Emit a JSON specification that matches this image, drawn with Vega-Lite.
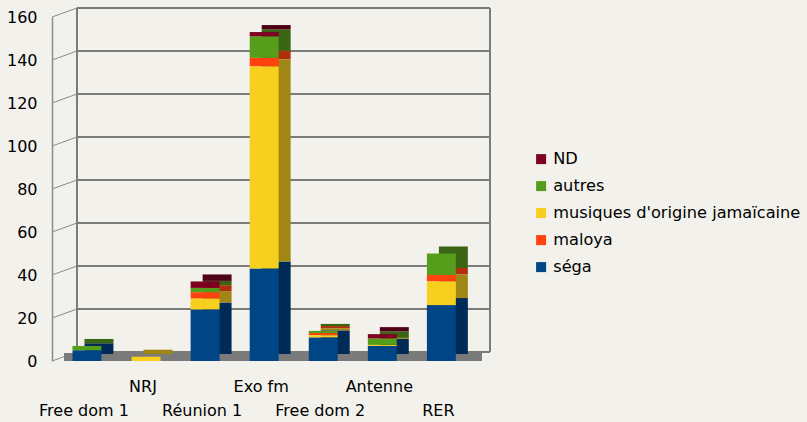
{
  "$schema": "https://vega.github.io/schema/vega-lite/v6.json",
  "width": 438,
  "height": 344,
  "autosize": {"type": "none"},
  "padding": {"left": 52, "top": 17, "right": 317, "bottom": 61},
  "background": "#f2f1eb",
  "config": {"view": {"stroke": null}, "font": "DejaVu Sans"},
  "datasets": {
    "counts": [
      {"station": "Free dom 1", "genre": "séga", "n": 5},
      {"station": "Free dom 1", "genre": "autres", "n": 2},
      {"station": "NRJ", "genre": "musiques d'origine jamaïcaine", "n": 2},
      {"station": "Réunion 1", "genre": "séga", "n": 24},
      {"station": "Réunion 1", "genre": "maloya", "n": 3},
      {"station": "Réunion 1", "genre": "musiques d'origine jamaïcaine", "n": 5},
      {"station": "Réunion 1", "genre": "autres", "n": 2},
      {"station": "Réunion 1", "genre": "ND", "n": 3},
      {"station": "Exo fm", "genre": "séga", "n": 43},
      {"station": "Exo fm", "genre": "maloya", "n": 4},
      {"station": "Exo fm", "genre": "musiques d'origine jamaïcaine", "n": 94},
      {"station": "Exo fm", "genre": "autres", "n": 10},
      {"station": "Exo fm", "genre": "ND", "n": 2},
      {"station": "Free dom 2", "genre": "séga", "n": 11},
      {"station": "Free dom 2", "genre": "maloya", "n": 1},
      {"station": "Free dom 2", "genre": "musiques d'origine jamaïcaine", "n": 1},
      {"station": "Free dom 2", "genre": "autres", "n": 1},
      {"station": "Antenne", "genre": "séga", "n": 7},
      {"station": "Antenne", "genre": "musiques d'origine jamaïcaine", "n": 0.5},
      {"station": "Antenne", "genre": "autres", "n": 3},
      {"station": "Antenne", "genre": "ND", "n": 2},
      {"station": "RER", "genre": "séga", "n": 26},
      {"station": "RER", "genre": "maloya", "n": 3},
      {"station": "RER", "genre": "musiques d'origine jamaïcaine", "n": 11},
      {"station": "RER", "genre": "autres", "n": 10}
    ],
    "ticks": [{"v": 0}, {"v": 20}, {"v": 40}, {"v": 60}, {"v": 80}, {"v": 100}, {"v": 120}, {"v": 140}, {"v": 160}]
  },
  "layer": [
    {
      "data": {"name": "ticks"},
      "mark": {"type": "rule", "color": "#7b7b79", "strokeWidth": 2, "xOffset": 25, "x2Offset": 0, "yOffset": -9, "y2Offset": -9},
      "encoding": {
        "x": {"value": 0},
        "x2": {"value": "width"},
        "y": {"field": "v", "type": "quantitative"},
        "y2": {"field": "v"}
      }
    },
    {
      "data": {"name": "ticks"},
      "mark": {"type": "rule", "color": "#8a8a88", "strokeWidth": 1, "x2Offset": 25, "y2Offset": -9},
      "encoding": {
        "x": {"value": 0},
        "x2": {"value": 0},
        "y": {"field": "v", "type": "quantitative"},
        "y2": {"field": "v"}
      }
    },
    {
      "data": {"values": [{"a": 0, "b": 160}]},
      "mark": {"type": "rule", "color": "#7b7b79", "strokeWidth": 2, "xOffset": 25, "yOffset": -9, "y2Offset": -9},
      "encoding": {"x": {"value": 0}, "y": {"field": "a", "type": "quantitative"}, "y2": {"field": "b"}}
    },
    {
      "data": {"values": [{"a": 0, "b": 160}]},
      "mark": {"type": "rule", "color": "#7b7b79", "strokeWidth": 2, "yOffset": -9, "y2Offset": -9},
      "encoding": {"x": {"value": "width"}, "y": {"field": "a", "type": "quantitative"}, "y2": {"field": "b"}}
    },
    {
      "data": {"values": [{"a": 0}]},
      "mark": {"type": "rule", "color": "#7a7a7a", "strokeWidth": 8, "xOffset": 12, "x2Offset": -8, "yOffset": -4, "y2Offset": -4},
      "encoding": {
        "x": {"value": 0},
        "x2": {"value": "width"},
        "y": {"field": "a", "type": "quantitative"},
        "y2": {"field": "a"}
      }
    },
    {
      "data": {"name": "counts"},
      "mark": {"type": "bar", "xOffset": 12, "x2Offset": 12, "yOffset": -7, "y2Offset": -7},
      "encoding": {
        "x": {"field": "station", "type": "nominal", "sort": null},
        "y": {"field": "n", "type": "quantitative", "stack": "zero"},
        "color": {
          "field": "genre", "type": "nominal",
          "sort": ["séga", "maloya", "musiques d'origine jamaïcaine", "autres", "ND"],
          "scale": {"domain": ["séga", "maloya", "musiques d'origine jamaïcaine", "autres", "ND"], "range": ["#002b56", "#b0300c", "#a08614", "#3a6614", "#4e0016"]},
          "legend": null
        }
      }
    },
    {
      "data": {"name": "counts"},
      "mark": {"type": "bar"},
      "encoding": {
        "x": {
          "field": "station", "type": "nominal", "sort": null,
          "scale": {"paddingInner": 0.51, "paddingOuter": 0.4625, "align": 0.375},
          "axis": {
            "title": null, "domain": false, "ticks": false, "labelAngle": 0, "labelAlign": "center",
            "labelFontSize": 16, "labelColor": "#000000", "labelPadding": 17, "labelOffset": -3,
            "labelBaseline": "top", "labelLineHeight": 24, "labelOverlap": false,
            "labelExpr": "indexof(['NRJ','Exo fm','Antenne'], datum.value) >= 0 ? datum.value : ['', datum.value]"
          }
        },
        "y": {
          "field": "n", "type": "quantitative", "stack": "zero",
          "scale": {"domain": [0, 160], "nice": false},
          "axis": {
            "title": null, "grid": false, "ticks": false, "values": [0, 20, 40, 60, 80, 100, 120, 140, 160],
            "labelFontSize": 16, "labelColor": "#000000", "labelPadding": 15,
            "domainColor": "#8a8a88", "domainWidth": 1.5
          }
        },
        "color": {
          "field": "genre", "type": "nominal",
          "sort": ["séga", "maloya", "musiques d'origine jamaïcaine", "autres", "ND"],
          "scale": {"domain": ["séga", "maloya", "musiques d'origine jamaïcaine", "autres", "ND"], "range": ["#004586", "#ff420e", "#f7cf1e", "#579d1c", "#7e0021"]},
          "legend": {
            "title": null, "orient": "none", "legendX": 481, "legendY": 134,
            "values": ["ND", "autres", "musiques d'origine jamaïcaine", "maloya", "séga"],
            "symbolType": "square", "symbolSize": 100, "symbolStrokeWidth": 0,
            "labelFontSize": 16.2, "labelColor": "#000000", "labelOffset": 4, "rowPadding": 10,
            "labelLimit": 400
          }
        }
      }
    }
  ],
  "resolve": {"scale": {"color": "independent"}}
}
